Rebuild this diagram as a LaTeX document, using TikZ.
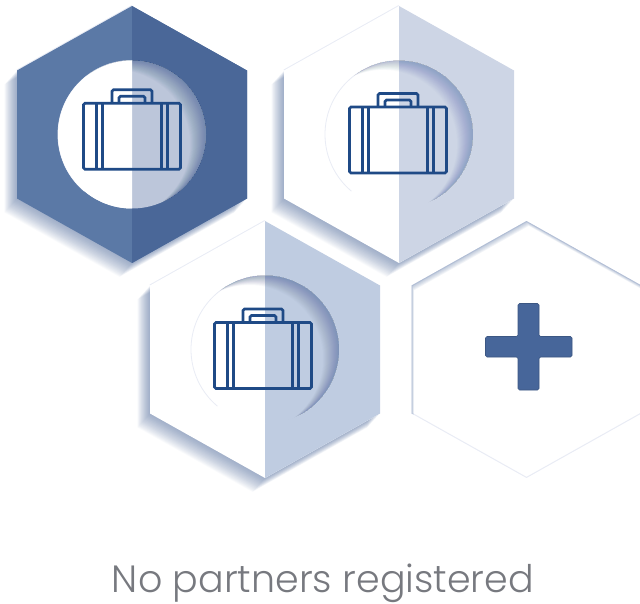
\documentclass[tikz,border=0pt]{standalone}
\usepackage{fontspec}
\setmainfont{Poppins Light}
\definecolor{caseblue}{HTML}{1F4A86}
\definecolor{shadowblue}{HTML}{3F5C90}
\definecolor{edgepale}{HTML}{E9ECF5}
\definecolor{edgeblue}{HTML}{6F88B0}
\definecolor{plusblue}{HTML}{47669A}
\definecolor{captiongray}{HTML}{77797F}
\definecolor{darkleft}{HTML}{5B79A6}
\definecolor{darkright}{HTML}{4A6798}
\definecolor{darkdisc}{HTML}{BCC6DA}
\definecolor{paleright}{HTML}{CDD5E5}
\definecolor{midright}{HTML}{BFCCE1}
\newcommand{\hexpath}{(0,-128.5) -- (115,-64) -- (115,64) -- (0,128.5) -- (-115,64) -- (-115,-64) -- cycle}
\newcommand{\halfpath}{(0,-128.5) -- (115,-64) -- (115,64) -- (0,128.5) -- cycle}
\tikzstyle{softfill}=[fill=shadowblue, fill opacity=.024]
\tikzstyle{caseline}=[draw=caseblue, line width=2.7pt, rounded corners=1.5pt]
% x, y, left colour, right colour, disc right colour, rim opacity
\newcommand{\hexcell}[6]{
  \begin{scope}[shift={(#1,#2)}]
    \foreach \s in {1,...,28} {
      \fill[softfill] [shift={(-.45*\s,.5*\s)}] \hexpath;
    }
    \draw[edgepale, line width=2pt, line join=round] (-115,-64) -- (0,-128.5);
    \fill[#3] \hexpath;
    \fill[#4] \halfpath;
    \fill[white] (0,-74) arc (270:90:74);
    \fill[#5] (0,-74) arc (-90:90:74);
    \draw[edgepale, line width=.8pt] (0,-74) arc (270:130:74);
    \begin{scope}
      \clip (0,0) circle (74);
      \foreach \s in {1,...,32} {
        \fill[shadowblue, fill opacity=#6, even odd rule] (-130,-130) rectangle (130,130) (-.5*\s,.3*\s) circle (74);
      }
    \end{scope}
  \end{scope}
}
\newcommand{\briefcase}[2]{
  \begin{scope}[shift={(#1,#2)}]
    \draw[caseline] (-20,-33) -- (-20,-46.5) -- (20,-46.5) -- (20,-33);
    \draw[caseline] (-13,-33) -- (-13,-40) -- (13,-40) -- (13,-33);
    \draw[caseline] (-48.5,-33) rectangle (48.5,33);
    \foreach \s in {-35.5,-29.5,29.5,35.5} {
      \draw[draw=caseblue, line width=2.7pt] (\s,-33) -- (\s,33);
    }
  \end{scope}
}
\begin{document}
\begin{tikzpicture}[x=1pt, y=-1pt]
  \useasboundingbox (0,0) rectangle (640,604);
  \hexcell{399}{134.5}{white}{paleright}{paleright}{.011}
  \hexcell{132}{134.5}{darkleft}{darkright}{darkdisc}{.018}
  \fill[white] (132,60.5) arc (270:90:74);
  \hexcell{265}{349.5}{white}{midright}{midright}{.014}
  \briefcase{132}{136.3}
  \briefcase{398}{140}
  \briefcase{263}{355.5}
  % empty cell with the plus
  \begin{scope}[shift={(526.5,349.5)}]
    \clip[preaction={fill=white}] \hexpath;
    \draw[edgepale, line width=2pt, line join=round] \hexpath;
    \foreach \s in {1,...,6} {
      \fill[edgeblue, fill opacity=.09, even odd rule] (-130,-140) rectangle (130,140) [shift={(.4*\s,.8*\s)}] \hexpath;
    }
  \end{scope}
  \fill[plusblue, draw=plusblue!85!black, line width=.6pt, rounded corners=1.5pt]
    (518,303.5) -- (539,303.5) -- (539,336.5) -- (572,336.5) -- (572,357) -- (539,357)
    -- (539,390) -- (518,390) -- (518,357) -- (485.5,357) -- (485.5,336.5) -- (518,336.5) -- cycle;
  \node[text=captiongray, anchor=base, inner sep=0pt, font=\fontsize{38}{44}\selectfont] (caption) at (323,592) {No partners registered};
\end{tikzpicture}
\end{document}
